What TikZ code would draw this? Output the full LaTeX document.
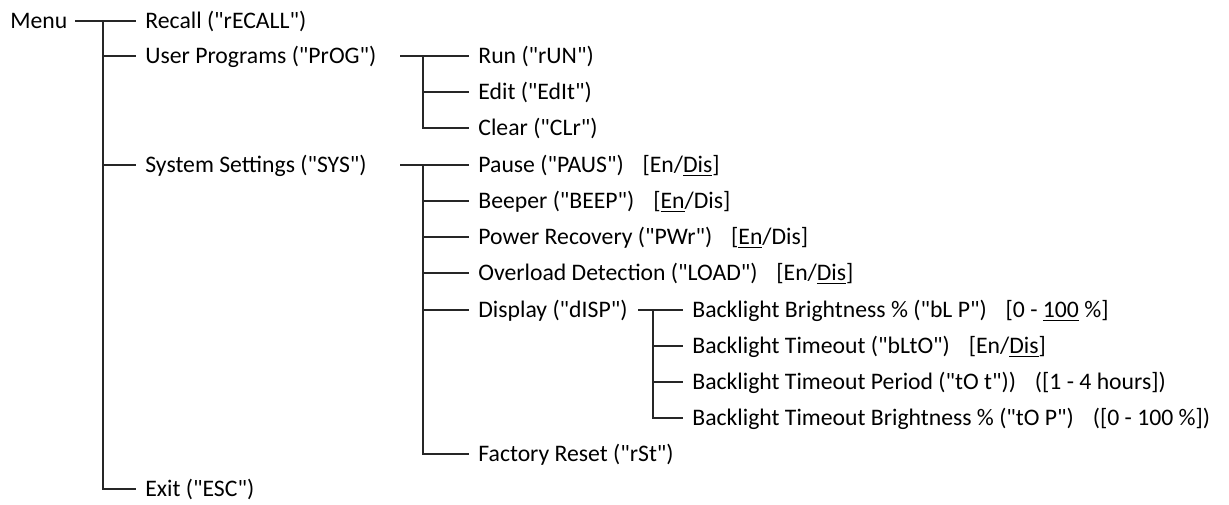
\documentclass[tikz,border=0pt]{standalone}
\usepackage{fontspec}
\setmainfont{Carlito}[Ligatures=TeXOff]
\usetikzlibrary{positioning, calc}

\tikzset{
  item/.style={anchor=west, inner sep=0pt, text height=7.6pt, text depth=0pt,
    font=\fontsize{11.85}{14}\selectfont},
  branch/.style={line width=0.9pt, black!85},
}
\newcommand{\sel}[1]{\underline{#1}}
\newcommand{\opt}{\hspace{0.8em}}

\begin{document}
\begin{tikzpicture}[x=0.5pt, y=-0.5pt]
        % Define dimensions
        \def\xa{145} % level 1 text
        \def\xb{478} % level 2 text
        \def\xc{692} % level 3 text
        \useasboundingbox (0,0) rectangle (1229,504);

        % Root
        \node[item] (menu) at (10,21) {Menu};

        % Level 1 entries
        \node[item] (recall) at (\xa,21)  {Recall ("rECALL")};
        \node[item] (prog)   at (\xa,56)  {User Programs ("PrOG")};
        \node[item] (sys)    at (\xa,165) {System Settings ("SYS")};
        \node[item] (esc)    at (\xa,489) {Exit ("ESC")};

        % Level 2 entries
        \node[item] (run)  at (\xb,56)  {Run ("rUN")};
        \node[item] (edit) at (\xb,92)  {Edit ("EdIt")};
        \node[item] (clr)  at (\xb,128) {Clear ("CLr")};
        \node[item] (paus) at (\xb,165) {Pause ("PAUS")\opt[En/\sel{Dis}]};
        \node[item] (beep) at (\xb,201) {Beeper ("BEEP")\opt[\sel{En}/Dis]};
        \node[item] (pwr)  at (\xb,237) {Power Recovery ("PWr")\opt[\sel{En}/Dis]};
        \node[item] (load) at (\xb,273) {Overload Detection ("LOAD")\opt[En/\sel{Dis}]};
        \node[item] (disp) at (\xb,310) {Display ("dISP")};
        \node[item] (rst)  at (\xb,454) {Factory Reset ("rSt")};

        % Level 3 entries
        \node[item] (blp) at (\xc,310) {Backlight Brightness \% ("bL P")\opt[0 - \sel{100} \%]};
        \node[item] (blt) at (\xc,346) {Backlight Timeout ("bLtO")\opt[En/\sel{Dis}]};
        \node[item] (tot) at (\xc,382) {Backlight Timeout Period ("tO t"))\opt([1 - 4 hours])};
        \node[item] (top) at (\xc,418) {Backlight Timeout Brightness \% ("tO P")\opt([0 - 100 \%])};

        % Junctions and stubs
        \coordinate (menuout) at (75,21);
        \coordinate (j0) at (103,21);
        \coordinate (progout) at (400,56);
        \coordinate (j1) at (423,56);
        \coordinate (sysout) at (400,165);
        \coordinate (j2) at (423,165);
        \coordinate (dispout) at (638,310);
        \coordinate (j3) at (653,310);

        % Menu branches
        \draw[branch] (menuout) -- ([xshift=-4.5pt]recall.west);
        \draw[branch] (j0) |- ([xshift=-4.5pt]esc.west);
        \foreach \c in {prog, sys}
            \draw[branch] (j0 |- \c.west) -- ([xshift=-4.5pt]\c.west);

        % User Programs branches
        \draw[branch] (progout) -- ([xshift=-4.5pt]run.west);
        \draw[branch] (j1) |- ([xshift=-4.5pt]clr.west);
        \draw[branch] (j1 |- edit.west) -- ([xshift=-4.5pt]edit.west);

        % System Settings branches
        \draw[branch] (sysout) -- ([xshift=-4.5pt]paus.west);
        \draw[branch] (j2) |- ([xshift=-4.5pt]rst.west);
        \foreach \c in {beep, pwr, load, disp}
            \draw[branch] (j2 |- \c.west) -- ([xshift=-4.5pt]\c.west);

        % Display branches
        \draw[branch] (dispout) -- ([xshift=-4.5pt]blp.west);
        \draw[branch] (j3) |- ([xshift=-4.5pt]top.west);
        \foreach \c in {blt, tot}
            \draw[branch] (j3 |- \c.west) -- ([xshift=-4.5pt]\c.west);
    \end{tikzpicture}
\end{document}
